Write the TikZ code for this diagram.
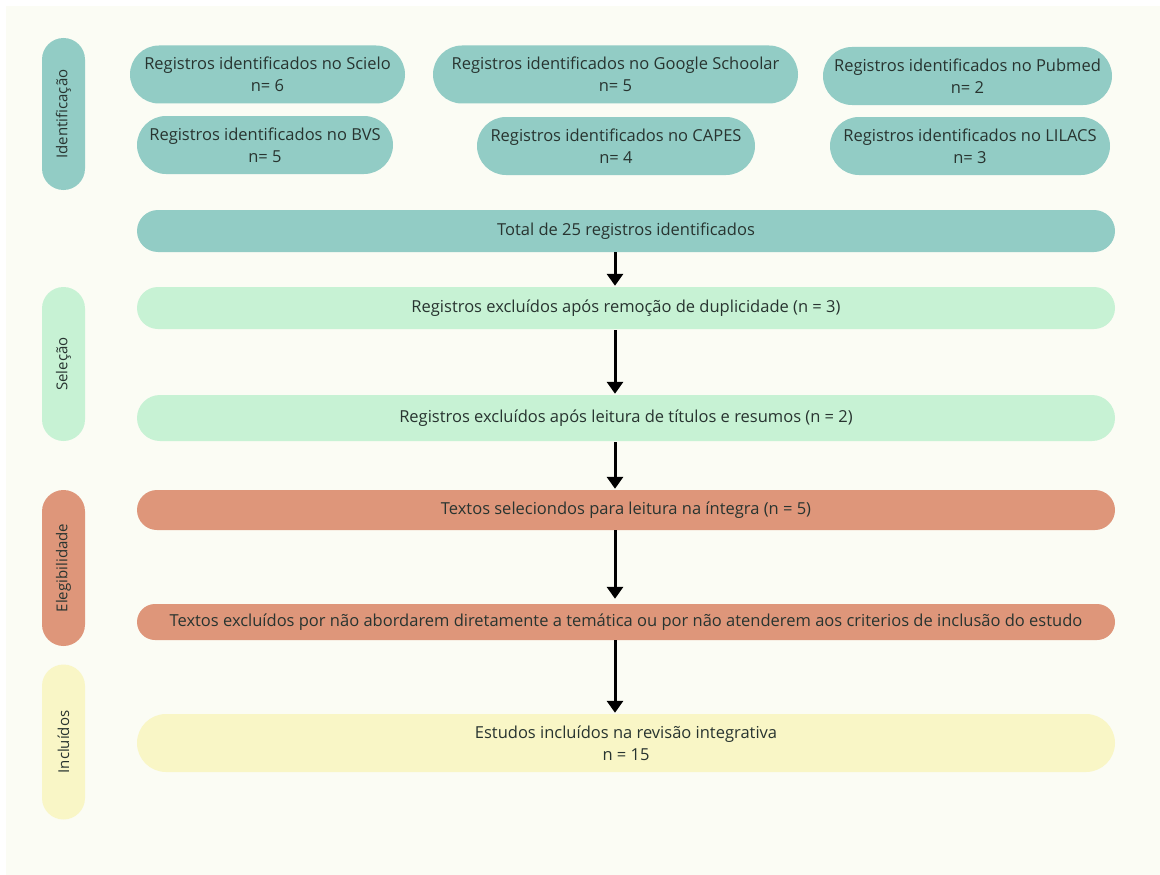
\documentclass[tikz,border=0pt]{standalone}
\usepackage{fontspec}
\setmainfont{Open Sans}
\usepackage{tikz}
\usetikzlibrary{shapes.misc}
\usetikzlibrary{arrows,arrows.meta}
\usetikzlibrary{calc}
\definecolor{fundo}{RGB}{251,252,244}
\definecolor{texto}{RGB}{40,52,48}
\definecolor{teal}{RGB}{146,204,197}
\definecolor{verde}{RGB}{199,242,212}
\definecolor{salmao}{RGB}{222,150,122}
\definecolor{amarelo}{RGB}{249,246,198}

\begin{document}
\begin{tikzpicture}[x=1pt, y=-1pt, >=stealth,
	pill/.style={rounded rectangle, inner sep=0pt, text=texto, align=center, font=\fontsize{16.5}{22}\selectfont},
	fase/.style={pill, rotate=90, minimum height=43pt, font=\fontsize{15}{18}\selectfont},
	base/.style={pill, minimum height=58pt},
	barra/.style={pill, minimum width=978pt},
	seta/.style={line width=3pt, black, -{Triangle[width=16pt,length=12pt]}}]

	% fundo
	\useasboundingbox (0,0) rectangle (1160,875);
	\fill[white] (0,0) rectangle (1160,875);
	\fill[fundo] (6,6) rectangle (1160,875);

	% fases
	\node[fase, fill=teal, minimum width=152pt] (idlab) at (63.5,114) {Identificação};
	\node[fase, fill=verde, minimum width=154pt] (sellab) at (63.5,364) {Seleção};
	\node[fase, fill=salmao, minimum width=156pt] (eleglab) at (63.5,568) {Elegibilidade};
	\node[fase, fill=amarelo, minimum width=155pt] (inclab) at (63.5,742) {Incluídos};

	% bases de dados
	\node[base, fill=teal, minimum width=275pt] (scielo) at (267.5,74.5) {Registros identificados no Scielo\\n= 6};
	\node[base, fill=teal, minimum width=365pt] (google) at (615.5,74.5) {Registros identificados no Google Schoolar\\n= 5};
	\node[base, fill=teal, minimum width=289pt] (pubmed) at (967.5,76) {Registros identificados no Pubmed\\n= 2};
	\node[base, fill=teal, minimum width=256pt] (bvs) at (265,145) {Registros identificados no BVS\\n= 5};
	\node[base, fill=teal, minimum width=278pt] (capes) at (616,146) {Registros identificados no CAPES\\n= 4};
	\node[base, fill=teal, minimum width=280pt] (lilacs) at (970,146) {Registros identificados no LILACS\\n= 3};

	% fluxo
	\node[barra, fill=teal, minimum height=42pt] (total) at (626,231) {Total de 25 registros identificados};
	\node[barra, fill=verde, minimum height=42pt] (dup) at (626,308) {Registros excluídos após remoção de duplicidade (n = 3)};
	\node[barra, fill=verde, minimum height=46pt] (titulos) at (626,418) {Registros excluídos após leitura de títulos e resumos (n = 2)};
	\node[barra, fill=salmao, minimum height=40pt] (integra) at (626,510) {Textos seleciondos para leitura na íntegra (n = 5)};
	\node[barra, fill=salmao, minimum height=36pt] (excl) at (626,622) {Textos excluídos por não abordarem diretamente a temática ou por não atenderem aos criterios de inclusão do estudo};
	\node[barra, fill=amarelo, minimum height=58pt] (inc) at (626,743) {Estudos incluídos na revisão integrativa\\n = 15};

	\coordinate (eixo) at (615,0);
	\draw[seta] (total.south -| eixo) -- ($(dup.north -| eixo)+(0,-1)$);
	\draw[seta] ($(dup.south -| eixo)+(0,1)$) -- ($(titulos.north -| eixo)+(0,-1)$);
	\draw[seta] ($(titulos.south -| eixo)+(0,1)$) -- ($(integra.north -| eixo)+(0,-1)$);
	\draw[seta] (integra.south -| eixo) -- ($(excl.north -| eixo)+(0,-5)$);
	\draw[seta] (excl.south -| eixo) -- ($(inc.north -| eixo)+(0,-1)$);

\end{tikzpicture}
\end{document}
